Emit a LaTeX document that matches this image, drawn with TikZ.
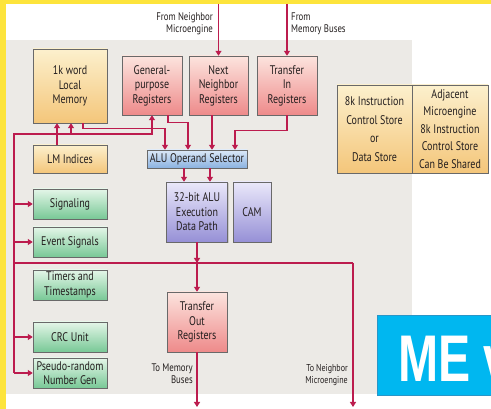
\documentclass[tikz,border=0pt]{standalone}
\usepackage{fontspec}
\setmainfont{PT Sans}[FakeStretch=0.8]
\newfontfamily\mefont{Liberation Sans}[FakeStretch=0.73]
\usetikzlibrary{arrows.meta,shadows}

\definecolor{busred}{RGB}{188,28,78}
\definecolor{boxedge}{RGB}{105,105,105}
\definecolor{txt}{RGB}{35,30,30}
\definecolor{panel}{RGB}{236,234,230}
\definecolor{frame}{RGB}{253,228,60}
\definecolor{yelT}{RGB}{252,240,205}
\definecolor{yelB}{RGB}{244,198,122}
\definecolor{redT}{RGB}{252,228,222}
\definecolor{redB}{RGB}{238,138,138}
\definecolor{grnT}{RGB}{228,246,232}
\definecolor{grnB}{RGB}{120,200,150}
\definecolor{bluT}{RGB}{220,233,248}
\definecolor{bluB}{RGB}{138,178,224}
\definecolor{purT}{RGB}{234,232,250}
\definecolor{purB}{RGB}{150,144,214}
\definecolor{mecyan}{RGB}{0,183,240}
\definecolor{meedge}{RGB}{40,150,200}

\tikzset{
  box/.style={draw=boxedge, inner sep=0pt, align=center, text=txt,
    font=\fontsize{12.5}{14.5}\selectfont,
    drop shadow={shadow xshift=1.2pt,shadow yshift=-1.2pt,opacity=.3}},
  sz/.style 2 args={minimum width=#1pt, minimum height=#2pt},
  yel/.style={box, top color=yelT, bottom color=yelB},
  reg/.style={box, top color=redT, bottom color=redB},
  grn/.style={box, top color=grnT, bottom color=grnB},
  blu/.style={box, top color=bluT, bottom color=bluB},
  pur/.style={box, top color=purT, bottom color=purB},
  bus/.style={busred, line width=1.2pt},
  arr/.style={bus, -{Triangle[length=5pt,width=6pt]}},
  lbl/.style={inner sep=0pt, text=txt, font=\fontsize{11}{12}\selectfont}
}

\begin{document}
\begin{tikzpicture}[x=1pt,y=-1pt]

\useasboundingbox (0,0) rectangle (491,409);
\clip (0,0) rectangle (491,409);

\fill[white] (0,0) rectangle (491,409);
\fill[frame] (0,0) rectangle (491,4);
\fill[frame] (0,0) rectangle (5.5,409);
\fill[panel] (5.5,40) rectangle (412,394);

% storage and registers
\node[yel, sz={74}{74}] (lmem) at (70,86) {1k word\\Local\\Memory};
\node[reg, sz={60}{59}] (gpr) at (152,85.5) {General-\\purpose\\Registers};
\node[reg, sz={59}{59}] (nnr) at (218.5,85.5) {Next\\Neighbor\\Registers};
\node[reg, sz={60}{59}] (tin) at (287,85.5) {Transfer\\In\\Registers};
\node[yel, sz={74}{28}] (lmidx) at (70,159) {LM Indices};
\node[blu, sz={100}{18}] (sel) at (197,159) {ALU Operand Selector};
\node[pur, sz={61}{60}] (alu) at (197,212) {32-bit ALU\\Execution\\Data Path};
\node[pur, sz={38}{60}] (cam) at (252,212) {CAM};
\node[reg, sz={60}{60}] (tout) at (197,322) {Transfer\\Out\\Registers};

% left column
\node[grn, sz={74}{30}] (sig) at (70,204) {Signaling};
\node[grn, sz={74}{30}] (evt) at (70,242) {Event Signals};
\node[grn, sz={74}{30}] (tmr) at (70,285) {Timers and\\Timestamps};
\node[grn, sz={74}{30}] (crc) at (70,337) {CRC Unit};
\node[grn, sz={74}{30}] (prng) at (70,373) {Pseudo-random\\Number Gen};

% control store
\node[yel, sz={75}{88}, font=\fontsize{12.5}{18.6}\selectfont] (cstore) at (374.5,129)
  {8k Instruction\\Control Store\\or\\Data Store};
\node[yel, sz={76}{88}, font=\fontsize{12.5}{17.5}\selectfont] (shared) at (450,129)
  {Adjacent\\Microengine\\8k Instruction\\Control Store\\Can Be Shared};

\node[lbl, anchor=east, align=right] (nbrInTxt) at (213,24) {From Neighbor\\Microengine};
\node[lbl, anchor=west, align=left] (memInTxt) at (291,24) {From\\Memory Buses};
\node[lbl, anchor=east, align=right] (memOutTxt) at (193,374) {To Memory\\Buses};
\node[lbl, anchor=east, align=right, font=\fontsize{10}{11.5}\selectfont] (nbrOutTxt) at (348,375)
  {To Neighbor\\Microengine};

\coordinate (busL) at (14,134);
\coordinate (busB) at (14,263);
\coordinate (nbrOut) at (353,263);
\coordinate (nbrEnd) at (353,407);
\coordinate (memEnd) at (197,407);
\coordinate (nbrIn) at (218.5,4);
\coordinate (memIn) at (287,4);

\draw[arr] (nbrIn) -- (nnr.north);
\draw[arr] (memIn) -- (tin.north);

\draw[arr] ([xshift=13pt]lmem.south) -- ++(0,5) -| ([xshift=-32pt]sel.north);
\draw[arr] ([xshift=16pt]gpr.south) -- ++(0,7) -| ([xshift=-9pt]sel.north);
\draw[arr] ([xshift=-6.5pt]nnr.south) -- ([xshift=15pt]sel.north);
\draw[arr] (tin.south) -- ++(0,15) -| ([xshift=38pt]sel.north);
\draw[arr] ([xshift=-13pt]sel.south) -- ([xshift=-13pt]sel.south |- alu.north);
\draw[arr] ([xshift=13pt]sel.south) -- ([xshift=13pt]sel.south |- alu.north);

\draw[arr] (busL |- prng.west) -- (busL) -| (gpr.south);
\draw[arr] ([xshift=1pt]lmem.south |- busL) -- ([xshift=1pt]lmem.south);
\draw[arr] ([xshift=-13pt]lmidx.north) -- ([xshift=-13pt]lmem.south);
\draw[arr] (busL |- sig.west) -- (sig.west);
\draw[arr] (busL |- evt.west) -- (evt.west);
\draw[arr] (busL |- crc.west) -- (crc.west);
\draw[arr] (busL |- prng.west) -- (prng.west);

\draw[bus] (busB) -- (nbrOut);
\draw[arr] (nbrOut) -- (nbrEnd);
\draw[arr] (alu.south) -- (alu.south |- busB);
\draw[arr] (alu.south |- busB) -- (tout.north);
\draw[arr] (tout.south) -- (memEnd);

\node[draw=meedge, fill=mecyan, line width=0.8pt, minimum width=120pt, minimum height=80pt,
  anchor=north west] (mebox) at (377,315) {};
\node[anchor=base west, inner sep=0pt, text=white, font=\mefont\bfseries\fontsize{66}{70}\selectfont]
  (metxt) at (398,382) {ME v};

\end{tikzpicture}
\end{document}
